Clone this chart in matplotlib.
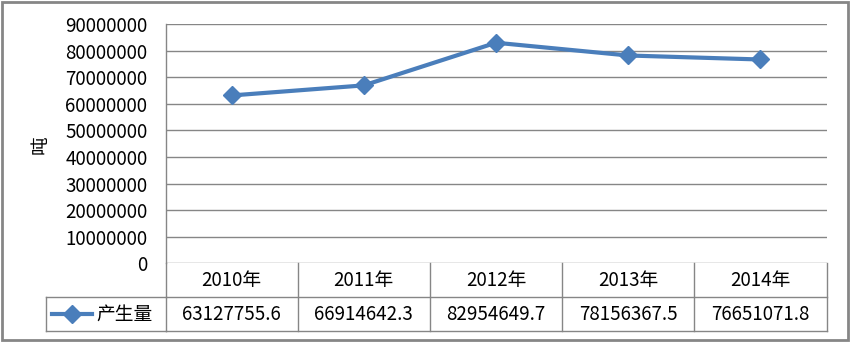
import numpy as np
import matplotlib
matplotlib.use("Agg")
import matplotlib.pyplot as plt
from matplotlib.transforms import blended_transform_factory
from matplotlib.patches import Rectangle
from matplotlib.lines import Line2D

plt.rcParams['font.family'] = ['Noto Sans CJK SC', 'DejaVu Sans']

years = ["2010年", "2011年", "2012年", "2013年", "2014年"]
values = [63127755.6, 66914642.3, 82954649.7, 78156367.5, 76651071.8]
value_labels = ["63127755.6", "66914642.3", "82954649.7", "78156367.5", "76651071.8"]
series_name = "产生量"
y_ticks = np.arange(0, 90000001, 10000000)

W, H = 850, 342
blue = "#4a7ebb"
grid = "#868686"
fs = 13.5

fig = plt.figure(figsize=(W / 100, H / 100), dpi=100)
ax = fig.add_axes([165.5 / W, 1 - 263.3 / H, (826.5 - 165.5) / W, (263.3 - 24) / H])

x = np.arange(len(years))
ax.plot(x, values, color=blue, lw=3, marker="D", ms=9.5, mfc=blue, mec=blue,
        zorder=3, clip_on=False)
ax.set_xlim(-0.5, len(years) - 0.5)
ax.set_ylim(0, 90000000)
ax.set_yticks(y_ticks)
ax.set_yticklabels([str(int(v)) for v in y_ticks], fontsize=fs)
ax.tick_params(axis="y", length=0, pad=13)
ax.set_xticks([])
for v in y_ticks:
    ax.axhline(v, color=grid, lw=1, zorder=1)
for s in ["top", "right", "bottom"]:
    ax.spines[s].set_visible(False)
ax.spines["left"].set_color(grid)
ax.spines["left"].set_linewidth(1)

fx = lambda px: px / W
fy = lambda py: 1 - py / H

# axis title
fig.text(fx(40), fy(145), "吨", rotation=90, ha="center", va="center", fontsize=fs)

# data table under the plot
row_h = 34 / (263.3 - 24)
tr = blended_transform_factory(ax.transData, ax.transAxes)
lk = dict(color=grid, lw=1, clip_on=False)
ax.plot([-0.5, len(years) - 0.5], [-row_h, -row_h], transform=tr, **lk)
ax.plot([-0.5, len(years) - 0.5], [-2 * row_h, -2 * row_h], transform=tr, **lk)
for i in range(len(years) + 1):
    ax.plot([i - 0.5, i - 0.5], [0, -2 * row_h], transform=tr, **lk)
for i, (yr, lab) in enumerate(zip(years, value_labels)):
    ax.text(i, -0.5 * row_h, yr, transform=tr, ha="center", va="center", fontsize=fs)
    ax.text(i, -1.5 * row_h, lab, transform=tr, ha="center", va="center", fontsize=fs)

# legend cell on the left of the value row
fig.add_artist(Line2D([fx(46), fx(165.5)], [fy(297.3), fy(297.3)], color=grid, lw=1))
fig.add_artist(Line2D([fx(46), fx(165.5)], [fy(330.7), fy(330.7)], color=grid, lw=1))
fig.add_artist(Line2D([fx(46), fx(46)], [fy(297.3), fy(330.7)], color=grid, lw=1))
fig.add_artist(Line2D([fx(52), fx(72), fx(92)], [fy(314)] * 3, color=blue, lw=3,
                      marker="D", ms=9.5, markevery=[1], mfc=blue, mec=blue))
fig.text(fx(96), fy(314), series_name, ha="left", va="center", fontsize=fs)

# outer chart border
fig.add_artist(Rectangle((fx(2), fy(340)), fx(846), 338 / H, fill=False,
                         edgecolor=grid, lw=2, transform=fig.transFigure))

fig.savefig("out.png", dpi=100)
